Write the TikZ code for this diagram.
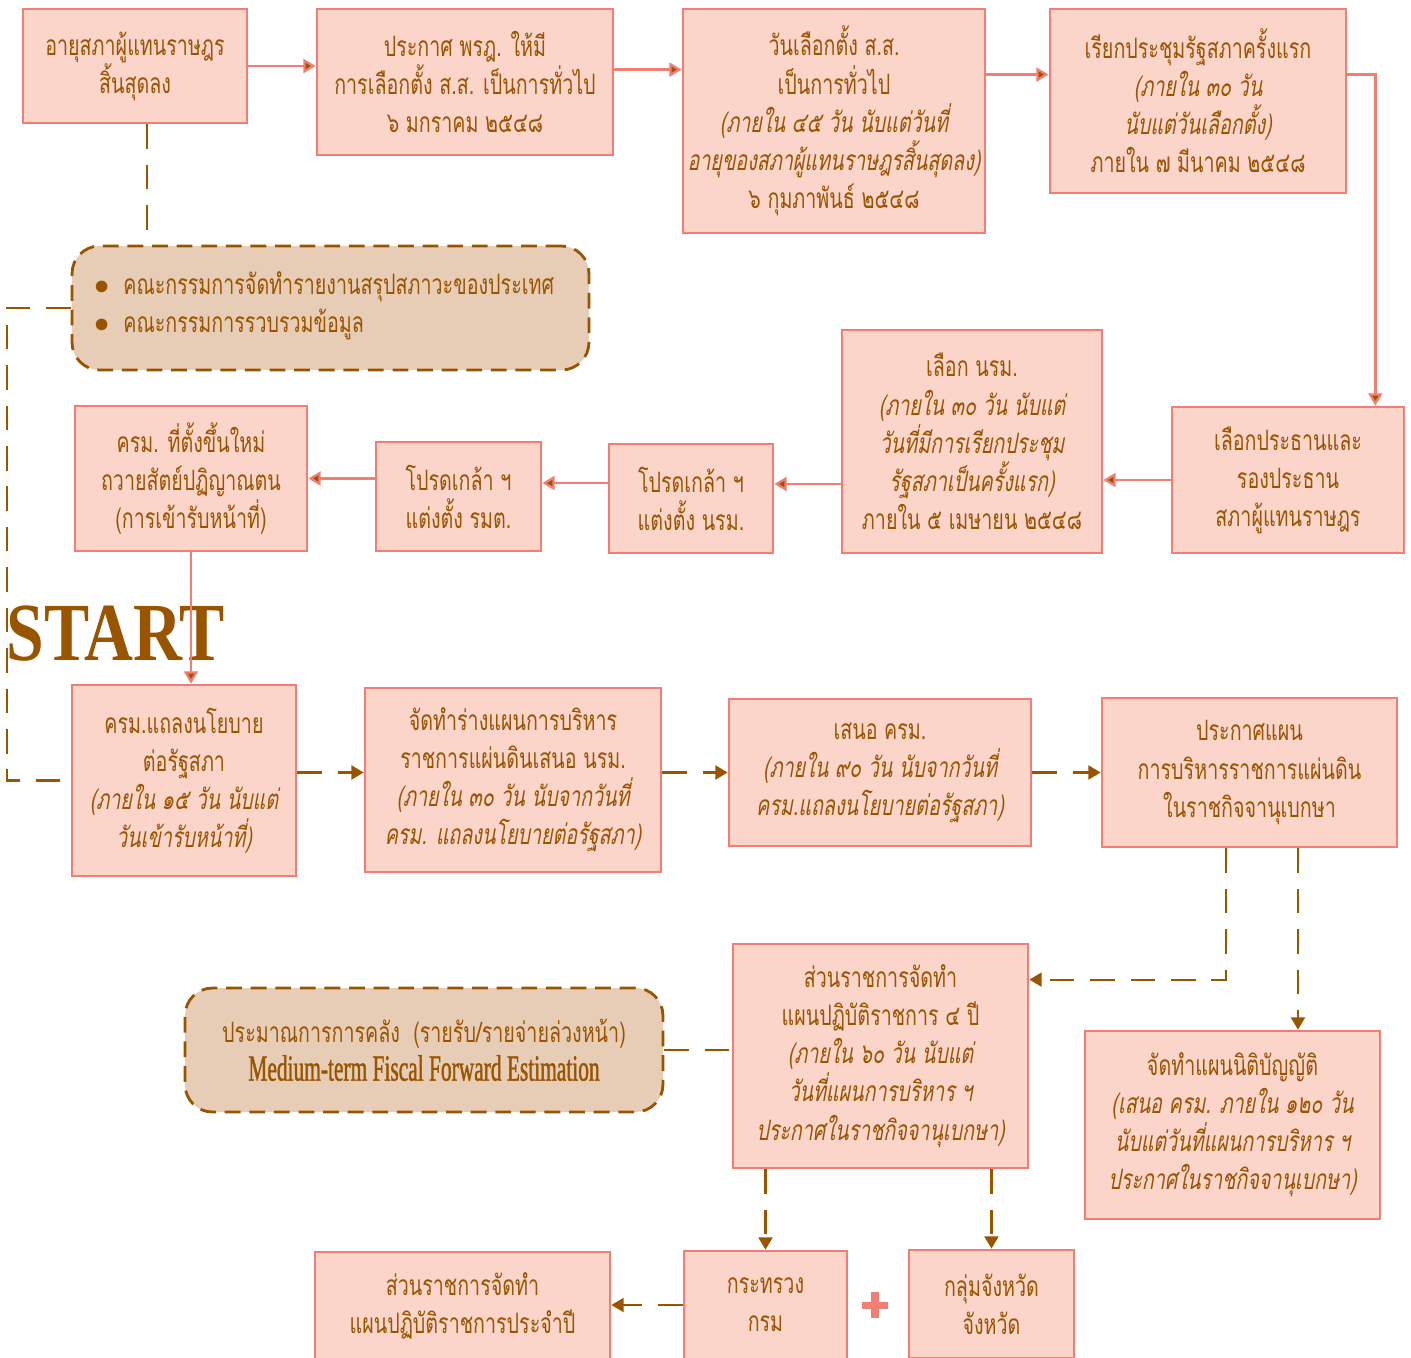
\documentclass[tikz,border=0pt]{standalone}
\usepackage{fontspec}
\setmainfont[Script=Thai, FakeStretch=0.7, ItalicFont=Loma, ItalicFeatures={FakeSlant=0.18}]{Loma}
\newfontfamily\engfont[FakeStretch=0.58, FakeBold=1]{Liberation Serif}
\newfontfamily\startfont[FakeStretch=0.82]{Liberation Serif Bold}
\usetikzlibrary{arrows.meta}

\definecolor{boxfill}{RGB}{251,212,202}
\definecolor{boxline}{RGB}{242,125,114}
\definecolor{txtbrown}{RGB}{153,84,0}
\definecolor{notefill}{RGB}{232,205,182}

\tikzset{
  stage/.style={draw=boxline, fill=boxfill, line width=1.6pt, text=txtbrown,
    align=center, inner sep=2pt, font=\fontsize{16}{21.7}\selectfont},
  note/.style={stage, draw=txtbrown, fill=notefill, rounded corners=0.55cm,
    dash pattern=on 9pt off 5pt},
  link/.style={draw=boxline, line width=1.3pt,
    -{Triangle[fill=txtbrown, length=7pt, width=8pt]}},
  dline/.style={draw=txtbrown, line width=1.2pt, dash pattern=on 14pt off 9pt},
  dlink/.style={dline, -{Triangle[length=7pt, width=8pt]}},
}

\begin{document}
\begin{tikzpicture}[x=0.02cm, y=-0.02cm]
  \clip (0,0) rectangle (1411,1357);

  % election and new cabinet
  \node[stage, minimum width=4.48cm, minimum height=2.28cm] (b1) at (135,66)
    {อายุสภาผู้แทนราษฎร\\สิ้นสุดลง};
  \node[stage, minimum width=5.92cm, minimum height=2.92cm] (b2) at (465,82)
    {ประกาศ พรฎ. ให้มี\\การเลือกตั้ง ส.ส. เป็นการทั่วไป\\๖ มกราคม ๒๕๔๘};
  \node[stage, minimum width=6.04cm, minimum height=4.48cm] (b3) at (834,121)
    {วันเลือกตั้ง ส.ส.\\เป็นการทั่วไป\\{\itshape (ภายใน ๔๕ วัน นับแต่วันที่}\\
     {\itshape อายุของสภาผู้แทนราษฎรสิ้นสุดลง)}\\๖ กุมภาพันธ์ ๒๕๔๘};
  \node[stage, minimum width=5.92cm, minimum height=3.68cm] (b4) at (1198,101)
    {เรียกประชุมรัฐสภาครั้งแรก\\{\itshape (ภายใน ๓๐ วัน}\\
     {\itshape นับแต่วันเลือกตั้ง)}\\ภายใน ๗ มีนาคม ๒๕๔๘};
  \node[note, minimum width=10.34cm, minimum height=2.48cm] (comm) at (330.5,308) {};
  \node[text=txtbrown, align=left, anchor=west, font=\fontsize{16}{21.7}\selectfont]
    (commtxt) at (88,306)
    {$\bullet$\enspace คณะกรรมการจัดทำรายงานสรุปสภาวะของประเทศ\\
     $\bullet$\enspace คณะกรรมการรวบรวมข้อมูล};
  \node[stage, minimum width=4.64cm, minimum height=2.92cm] (b5) at (1288,480)
    {เลือกประธานและ\\รองประธาน\\สภาผู้แทนราษฎร};
  \node[stage, minimum width=5.2cm, minimum height=4.46cm] (b6) at (972,441.5)
    {เลือก นรม.\\{\itshape (ภายใน ๓๐ วัน นับแต่}\\{\itshape วันที่มีการเรียกประชุม}\\
     {\itshape รัฐสภาเป็นครั้งแรก)}\\ภายใน ๕ เมษายน ๒๕๔๘};
  \node[stage, minimum width=3.28cm, minimum height=2.18cm] (b7) at (691,498.5)
    {โปรดเกล้า ฯ\\แต่งตั้ง นรม.};
  \node[stage, minimum width=3.3cm, minimum height=2.18cm] (b8) at (458.5,496.5)
    {โปรดเกล้า ฯ\\แต่งตั้ง รมต.};
  \node[stage, minimum width=4.64cm, minimum height=2.9cm] (b9) at (191,478.5)
    {ครม. ที่ตั้งขึ้นใหม่\\ถวายสัตย์ปฏิญาณตน\\(การเข้ารับหน้าที่)};

  \node[text=txtbrown, anchor=west, inner sep=0pt,
    font=\startfont\fontsize{47}{47}\selectfont] (start) at (6,634) {START};

  % planning
  \node[stage, minimum width=4.48cm, minimum height=3.82cm] (b10) at (184,780.5)
    {ครม.แถลงนโยบาย\\ต่อรัฐสภา\\{\itshape (ภายใน ๑๕ วัน นับแต่}\\
     {\itshape วันเข้ารับหน้าที่)}};
  \node[stage, minimum width=5.92cm, minimum height=3.68cm] (b11) at (513,780)
    {จัดทำร่างแผนการบริหาร\\ราชการแผ่นดินเสนอ นรม.\\
     {\itshape (ภายใน ๓๐ วัน นับจากวันที่}\\{\itshape ครม. แถลงนโยบายต่อรัฐสภา)}};
  \node[stage, minimum width=6.04cm, minimum height=2.94cm] (b12) at (880,772.5)
    {เสนอ ครม.\\{\itshape (ภายใน ๙๐ วัน นับจากวันที่}\\
     {\itshape ครม.แถลงนโยบายต่อรัฐสภา)}};
  \node[stage, minimum width=5.9cm, minimum height=2.98cm] (b13) at (1249.5,772.5)
    {ประกาศแผน\\การบริหารราชการแผ่นดิน\\ในราชกิจจานุเบกษา};
  \node[stage, minimum width=5.9cm, minimum height=4.48cm] (b14) at (880.5,1056)
    {ส่วนราชการจัดทำ\\แผนปฏิบัติราชการ ๔ ปี\\{\itshape (ภายใน ๖๐ วัน นับแต่}\\
     {\itshape วันที่แผนการบริหาร ฯ}\\{\itshape ประกาศในราชกิจจานุเบกษา)}};
  \node[stage, minimum width=5.9cm, minimum height=3.76cm] (b15) at (1232.5,1125)
    {จัดทำแผนนิติบัญญัติ\\{\itshape (เสนอ ครม. ภายใน ๑๒๐ วัน}\\
     {\itshape นับแต่วันที่แผนการบริหาร ฯ}\\{\itshape ประกาศในราชกิจจานุเบกษา)}};
  \node[note, minimum width=9.56cm, minimum height=2.48cm] (fisc) at (424,1050)
    {ประมาณการการคลัง~~(รายรับ/รายจ่ายล่วงหน้า)\\
     {\engfont\fontsize{21}{24}\selectfont Medium-term Fiscal Forward Estimation}};
  \node[stage, minimum width=5.9cm, minimum height=2.16cm] (b16) at (462.5,1306)
    {ส่วนราชการจัดทำ\\แผนปฏิบัติราชการประจำปี};
  \node[stage, minimum width=3.26cm, minimum height=2.16cm] (b17) at (765.5,1305)
    {กระทรวง\\กรม};
  \node[stage, minimum width=3.3cm, minimum height=2.16cm] (b18) at (991.5,1304)
    {กลุ่มจังหวัด\\จังหวัด};
  \draw[boxline, line width=4pt] (862,1305) -- (888,1305) (875,1292) -- (875,1318);

  % solid links
  \draw[link] (b1.east) -- (b1.east -| b2.west);
  \draw[link] ([yshift=-1.24cm]b2.north east) -- ([yshift=-1.24cm]b2.north east -| b3.west);
  \draw[link] ([yshift=-1.34cm]b3.north east) -- ([yshift=-1.34cm]b3.north east -| b4.west);
  \draw[link] ([yshift=-1.34cm]b4.north east) -| ([xshift=-0.6cm]b5.north east);
  \draw[link] (b5.west) -- (b5.west -| b6.east);
  \coordinate (b7in) at ([yshift=0.29cm]b7.east);
  \draw[link] (b6.west |- b7in) -- (b7in);
  \coordinate (b8in) at ([yshift=0.27cm]b8.east);
  \draw[link] (b7.west |- b8in) -- (b8in);
  \draw[link] (b8.west |- b9.east) -- (b9.east);
  \draw[link] (b9.south) -- (b9.south |- b10.north);

  % dashed links
  \draw[dline] ([xshift=0.24cm]b1.south) -- ([xshift=0.24cm]b1.south |- comm.north);
  \draw[dline] (comm.west) -- ++(-64,0) |- (b10.west);
  \draw[dlink] (b10.east |- b12) -- (b11.west |- b12);
  \draw[dlink] (b11.east |- b12) -- (b12.west);
  \draw[dlink] (b12.east) -- (b12.east -| b13.west);
  \draw[dlink] ([xshift=-0.47cm]b13.south) |- ([yshift=-0.74cm]b14.north east);
  \draw[dlink] ([xshift=0.97cm]b13.south) -- ([xshift=0.97cm]b13.south |- b15.north);
  \draw[dline] (fisc.east) -- (fisc.east -| b14.west);
  \draw[dlink] (b17.north |- b14.south) -- (b17.north);
  \draw[dlink] (b18.north |- b14.south) -- (b18.north);
  \draw[dlink] (b17.west) -- (b17.west -| b16.east);
\end{tikzpicture}
\end{document}
